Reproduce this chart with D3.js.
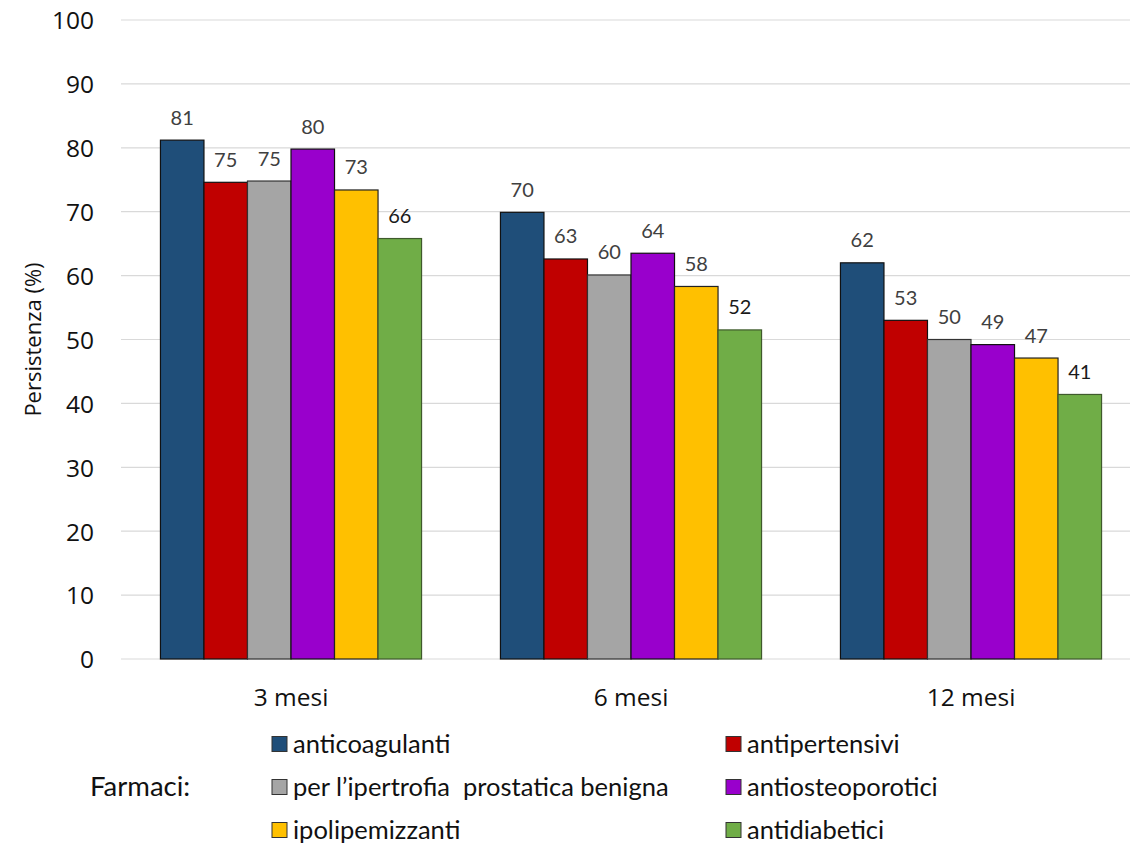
<!DOCTYPE html>
<html>
<head>
<meta charset="utf-8">
<script src="https://cdn.jsdelivr.net/npm/d3@7"></script>
<style>
  html, body { margin: 0; padding: 0; background: #fff; }
  svg { display: block; }
</style>
</head>
<body>
<svg id="chart" width="1130" height="846"></svg>
<script>
// Periods on the x axis
const periods = ["3 mesi", "6 mesi", "12 mesi"];

// Drug classes (series)
const drugClasses = [
  "anticoagulanti",
  "antipertensivi",
  "per l\u2019ipertrofia  prostatica benigna",
  "antiosteoporotici",
  "ipolipemizzanti",
  "antidiabetici"
];

// Persistence (%) per drug class, for 3 / 6 / 12 months
const anticoagulanti    = [81.2, 69.9, 62.0];
const antipertensivi    = [74.6, 62.6, 53.0];
const ipertrofiaProst   = [74.8, 60.1, 50.0];
const antiosteoporotici = [79.8, 63.5, 49.2];
const ipolipemizzanti   = [73.4, 58.3, 47.1];
const antidiabetici     = [65.8, 51.5, 41.4];

const yTicks = [0, 10, 20, 30, 40, 50, 60, 70, 80, 90, 100];

const seriesValues = [anticoagulanti, antipertensivi, ipertrofiaProst,
                      antiosteoporotici, ipolipemizzanti, antidiabetici];
const fills   = ["#1f4e79", "#c00000", "#a5a5a5", "#9900cc", "#ffc000", "#70ad47"];
const strokes = ["#111", "#111", "#333", "#111", "#222", "#3f5a2c"];
const labelColors = ["#404040", "#404040", "#404040", "#404040", "#404040", "#1a1a1a"];

const svg = d3.select("#chart");

const plot = { left: 121, right: 1141, top: 20, bottom: 659 };

const x = d3.scaleBand()
  .domain(periods)
  .range([plot.left, plot.right])
  .paddingInner(0.232)
  .paddingOuter(0.116);

const xs = d3.scaleBand()
  .domain(d3.range(drugClasses.length))
  .range([0, x.bandwidth()])
  .padding(0);

const y = d3.scaleLinear().domain([0, 100]).range([plot.bottom, plot.top]);

// horizontal gridlines
svg.append("g")
  .selectAll("line")
  .data(yTicks)
  .join("line")
  .attr("x1", plot.left)
  .attr("x2", plot.right)
  .attr("y1", d => y(d))
  .attr("y2", d => y(d))
  .attr("stroke", "#d9d9d9")
  .attr("stroke-width", 1.2);

// y axis labels
const yAxis = d3.axisLeft(y).tickValues(yTicks).tickSize(0).tickPadding(0);
const yg = svg.append("g")
  .attr("transform", "translate(94,0)")
  .call(yAxis);
yg.select(".domain").remove();
yg.selectAll("text")
  .attr("font-family", "'Open Sans', sans-serif")
  .attr("font-size", 24.5)
  .attr("fill", "#111")
  .attr("dy", "0.36em");

// y axis title
svg.append("text")
  .attr("transform", `translate(41,${(plot.top + plot.bottom) / 2}) rotate(-90)`)
  .attr("text-anchor", "middle")
  .attr("font-family", "'Open Sans', sans-serif")
  .attr("font-size", 22)
  .attr("fill", "#111")
  .text("Persistenza (%)");

// x axis labels
const xAxis = d3.axisBottom(x).tickSize(0).tickPadding(0);
const xg = svg.append("g")
  .attr("transform", `translate(0,${plot.bottom})`)
  .call(xAxis);
xg.select(".domain").remove();
xg.selectAll("text")
  .attr("font-family", "'Open Sans', sans-serif")
  .attr("font-size", 24.5)
  .attr("fill", "#111")
  .attr("dy", "0")
  .attr("y", 47);

// bars
const groups = svg.append("g")
  .selectAll("g")
  .data(periods)
  .join("g")
  .attr("transform", p => `translate(${x(p)},0)`);

groups.selectAll("rect")
  .data((p, pi) => seriesValues.map((vals, si) => ({ si, v: vals[pi] })))
  .join("rect")
  .attr("x", d => xs(d.si))
  .attr("width", xs.bandwidth())
  .attr("y", d => y(d.v))
  .attr("height", d => y(0) - y(d.v))
  .attr("fill", d => fills[d.si])
  .attr("stroke", d => strokes[d.si])
  .attr("stroke-width", 1.2);

// value labels
groups.selectAll("text")
  .data((p, pi) => seriesValues.map((vals, si) => ({ si, v: vals[pi] })))
  .join("text")
  .attr("x", d => xs(d.si) + xs.bandwidth() / 2)
  .attr("y", d => y(d.v) - 15.5)
  .attr("text-anchor", "middle")
  .attr("font-family", "Lato, sans-serif")
  .attr("font-size", 20)
  .attr("fill", d => labelColors[d.si])
  .text(d => Math.round(d.v));

// legend
svg.append("text")
  .attr("x", 90)
  .attr("y", 796)
  .attr("font-family", "Lato, sans-serif")
  .attr("font-size", 27.5)
  .attr("fill", "#111")
  .text("Farmaci:");

const legendCols = [272, 726];
const legendRows = [744, 787, 830];
const legend = svg.append("g")
  .selectAll("g")
  .data(drugClasses)
  .join("g")
  .attr("transform", (d, i) => `translate(${legendCols[i % 2]},${legendRows[Math.floor(i / 2)]})`);

legend.append("rect")
  .attr("x", 0)
  .attr("y", -7.5)
  .attr("width", 15)
  .attr("height", 15)
  .attr("fill", (d, i) => fills[i])
  .attr("stroke", "#333")
  .attr("stroke-width", 1);

legend.append("text")
  .attr("x", 21)
  .attr("y", 0)
  .attr("dy", "0.35em")
  .attr("font-family", "Lato, sans-serif")
  .attr("font-size", 25.5)
  .attr("fill", "#111")
  .attr("xml:space", "preserve")
  .style("white-space", "pre")
  .text(d => d);
</script>
</body>
</html>
